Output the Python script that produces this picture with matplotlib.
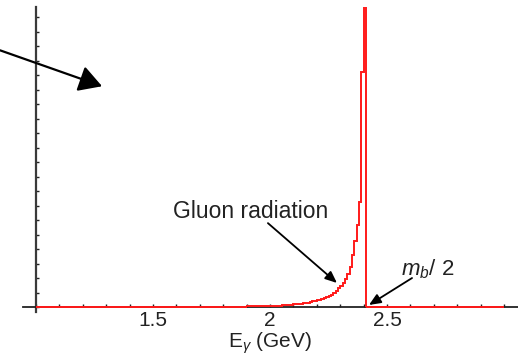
import numpy as np
import matplotlib.pyplot as plt
from matplotlib.ticker import MultipleLocator, FixedLocator

# photon spectrum histogram (arbitrary units), bins of 0.01 GeV
bin_edges = np.round(np.arange(1.90, 2.4101, 0.01), 3)
counts = [0.35, 0.35, 0.35, 0.35, 0.4, 0.5, 0.5, 0.55, 0.55, 0.6,
          0.7, 0.75, 0.8, 0.9, 1.0, 1.05, 1.2, 1.3, 1.45, 1.6,
          1.8, 2.0, 2.2, 2.4, 2.6, 2.8, 3.1, 3.45, 3.8, 4.15,
          4.5, 5.0, 5.5, 6.2, 6.9, 7.6, 8.6, 9.7, 11.0, 12.8,
          14.5, 16.6, 19.3, 22.8, 27.6, 35.9, 45.5, 56.6, 72.4, 162.0,
          600.0]
tick_vals = [1.5, 2.0, 2.5]
tick_labels = ['1.5', '2', '2.5']

plt.rcParams['font.family'] = ['Liberation Sans', 'DejaVu Sans']
plt.rcParams['mathtext.fontset'] = 'custom'
plt.rcParams['mathtext.rm'] = 'Liberation Sans'
plt.rcParams['mathtext.it'] = 'Liberation Sans:italic'

fig = plt.figure(figsize=(5.18, 3.58), dpi=100)
ax = fig.add_axes([0.0444, 0.1285, 0.9556, 0.8515])
ax.set_xlim(0.944, 3.06)
ax.set_ylim(-3.45, 207)

red = '#ff1a1a'
ax.stairs(counts, bin_edges, color=red, lw=1.4, zorder=3)
ax.hlines(0, 1.0, bin_edges[0], color=red, lw=1.4, zorder=3)
ax.hlines(0, bin_edges[-1], 3.0, color=red, lw=1.4, zorder=3)
ax.vlines(bin_edges[0], 0, counts[0], color=red, lw=1.4, zorder=3)

for s in ['top', 'right']:
    ax.spines[s].set_visible(False)
ax.spines['left'].set_position(('data', 1.0))
ax.spines['bottom'].set_position(('data', 0))
ax.spines['left'].set_color('#3a3a3a')
ax.spines['left'].set_linewidth(1.6)
ax.spines['bottom'].set_color('#222222')
ax.spines['bottom'].set_linewidth(1.3)

ax.xaxis.set_major_locator(FixedLocator(tick_vals))
ax.set_xticklabels(tick_labels)
ax.xaxis.set_minor_locator(MultipleLocator(0.1))
ax.tick_params(axis='x', which='both', direction='in', length=2.5, width=1.0,
               color='#222222', labelsize=15, pad=3, labelcolor='#222222')
ax.yaxis.set_major_locator(MultipleLocator(10))
ax.tick_params(axis='y', which='both', direction='in', length=2.5, width=1.0,
               color='#222222', labelleft=False)
ax.set_xlabel(r'E$_\gamma$ (GeV)', fontsize=15, labelpad=0.5, color='#222222')

ax.annotate('', xy=(1.282, 152.4), xytext=(0.846, 177.2), annotation_clip=False,
            arrowprops=dict(arrowstyle='-|>,head_length=14,head_width=8',
                            mutation_scale=1, color='black', lw=1.6,
                            shrinkA=0, shrinkB=0))
ax.annotate('', xy=(2.286, 16.6), xytext=(1.991, 57.9),
            arrowprops=dict(arrowstyle='-|>,head_length=7,head_width=3',
                            mutation_scale=1, color='black', lw=1.3,
                            shrinkA=0, shrinkB=0))
ax.text(1.915, 66, 'Gluon radiation', fontsize=16.5, ha='center', va='center',
        color='#222222')
ax.annotate('', xy=(2.423, 1.4), xytext=(2.607, 20),
            arrowprops=dict(arrowstyle='-|>,head_length=7,head_width=3',
                            mutation_scale=1, color='black', lw=1.3,
                            shrinkA=0, shrinkB=0))
ax.text(2.675, 26, r'$m_b$/ 2', fontsize=16, ha='center', va='center',
        color='#222222')

fig.savefig('out.png', dpi=100)
